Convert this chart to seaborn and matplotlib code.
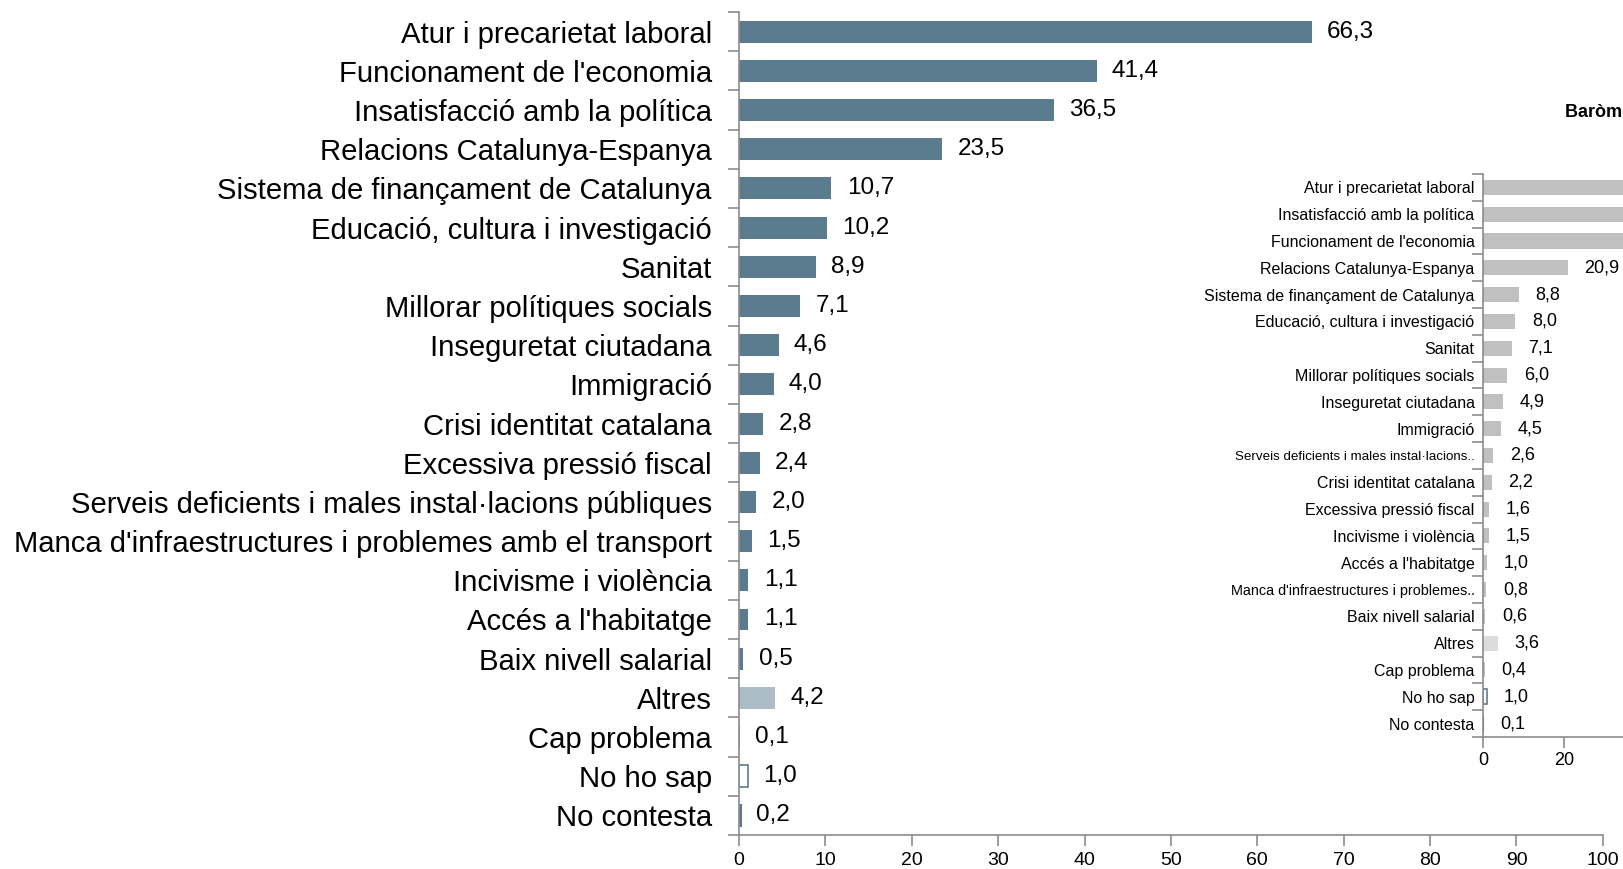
import matplotlib
matplotlib.use("Agg")
import matplotlib.pyplot as plt
from matplotlib.ticker import FixedLocator
import numpy as np
import seaborn as sns

#%% dades
categories = [
    "Atur i precarietat laboral",
    "Funcionament de l'economia",
    "Insatisfacció amb la política",
    "Relacions Catalunya-Espanya",
    "Sistema de finançament de Catalunya",
    "Educació, cultura i investigació",
    "Sanitat",
    "Millorar polítiques socials",
    "Inseguretat ciutadana",
    "Immigració",
    "Crisi identitat catalana",
    "Excessiva pressió fiscal",
    "Serveis deficients i males instal·lacions públiques",
    "Manca d'infraestructures i problemes amb el transport",
    "Incivisme i violència",
    "Accés a l'habitatge",
    "Baix nivell salarial",
    "Altres",
    "Cap problema",
    "No ho sap",
    "No contesta",
]
valors = [66.3, 41.4, 36.5, 23.5, 10.7, 10.2, 8.9, 7.1, 4.6, 4.0, 2.8, 2.4,
          2.0, 1.5, 1.1, 1.1, 0.5, 4.2, 0.1, 1.0, 0.2]

categories_ant = [
    "Atur i precarietat laboral",
    "Insatisfacció amb la política",
    "Funcionament de l'economia",
    "Relacions Catalunya-Espanya",
    "Sistema de finançament de Catalunya",
    "Educació, cultura i investigació",
    "Sanitat",
    "Millorar polítiques socials",
    "Inseguretat ciutadana",
    "Immigració",
    "Serveis deficients i males instal·lacions..",
    "Crisi identitat catalana",
    "Excessiva pressió fiscal",
    "Incivisme i violència",
    "Accés a l'habitatge",
    "Manca d'infraestructures i problemes..",
    "Baix nivell salarial",
    "Altres",
    "Cap problema",
    "No ho sap",
    "No contesta",
]
# els tres primers queden fora de la imatge: valors estimats
valors_ant = [58.0, 45.0, 41.0, 20.9, 8.8, 8.0, 7.1, 6.0, 4.9, 4.5, 2.6, 2.2,
              1.6, 1.5, 1.0, 0.8, 0.6, 3.6, 0.4, 1.0, 0.1]

titol_ant = "Baròmetre anterior"

#%% estil
sns.set_style("white")
plt.rcParams["font.family"] = ["Liberation Sans", "DejaVu Sans"]
plt.rcParams["text.color"] = "black"
plt.rcParams["xtick.color"] = "black"
plt.rcParams["ytick.color"] = "black"

blau = "#5b7b8f"
blau_clar = "#adbdc8"
gris = "#c0c0c0"
gris_clar = "#dcdcdc"
eix = "#8c8c8c"


def colors_per(cats, base, altres):
    cols = []
    for c in cats:
        if c == "Altres":
            cols.append(altres)
        elif c == "No ho sap":
            cols.append("white")
        elif c == "No contesta":
            cols.append(blau)
        else:
            cols.append(base)
    return cols


def graficar(ax, cats, vals, base, altres, mida_eti, mida_val, pad, mida_tick,
             pad_eti, pad_x):
    cols = colors_per(cats, base, altres)
    sns.barplot(x=vals, y=cats, hue=cats, palette=cols, orient="h",
                width=0.56, legend=False, ax=ax, saturation=1)
    for p, c in zip(ax.patches, cats):
        p.set_linewidth(0)
        if c == "No ho sap":
            p.set_edgecolor(blau)
            p.set_linewidth(1.2)
        if c == "No contesta":
            p.set_edgecolor(blau)
            p.set_linewidth(0.8)
    etiquetes = [f"{v:.1f}".replace(".", ",") for v in vals]
    for p, e in zip(ax.patches, etiquetes):
        ax.annotate(e, (p.get_width(), p.get_y() + p.get_height() / 2),
                    xytext=(pad, 0), textcoords="offset points",
                    va="center", ha="left", fontsize=mida_val, color="black")
    ax.set_ylim(len(cats) - 0.5, -0.5)
    ax.set_xlim(0, 100)
    ax.set_xlabel("")
    ax.set_ylabel("")
    ax.tick_params(axis="y", which="major", length=0, labelsize=mida_eti,
                   pad=pad_eti, labelcolor="black")
    ax.yaxis.set_minor_locator(FixedLocator(np.arange(-0.5, len(cats), 1)))
    ax.tick_params(axis="y", which="minor", length=8, color=eix, width=1.2,
                   direction="out", left=True)
    ax.tick_params(axis="x", length=8, color=eix, width=1.2, direction="out",
                   labelsize=mida_tick, pad=pad_x, bottom=True, labelcolor="black")
    for s in ["top", "right"]:
        ax.spines[s].set_visible(False)
    for s in ["left", "bottom"]:
        ax.spines[s].set_color(eix)
        ax.spines[s].set_linewidth(1.2)
    ax.set_facecolor("none")


fig = plt.figure(figsize=(16.23, 8.69), dpi=100)

#%% gràfic principal
ax = fig.add_axes([0.4553, 0.0391, 0.5323, 0.947])
graficar(ax, categories, valors, blau, blau_clar, 21.1, 17.5, 11, 14, 19.5, 4)
ax.set_xticks(np.arange(0, 101, 10))

#%% gràfic petit (baròmetre anterior)
ax2 = fig.add_axes([0.9137, 0.1519, 0.2495, 0.6479])
graficar(ax2, categories_ant, valors_ant, gris, gris_clar, 11.5, 13, 12, 13, 6, 2.5)
ax2.set_xticks(np.arange(0, 101, 20))
# les etiquetes retallades surten més estretes a l'original
for t in ax2.get_yticklabels():
    if t.get_text().startswith("Serveis"):
        t.set_fontsize(9.6)
    elif t.get_text().startswith("Manca"):
        t.set_fontsize(10.4)
fig.text(0.9643, 0.871, titol_ant, fontsize=13, fontweight="bold",
         ha="left", va="center")

fig.savefig("out.png", dpi=100)
